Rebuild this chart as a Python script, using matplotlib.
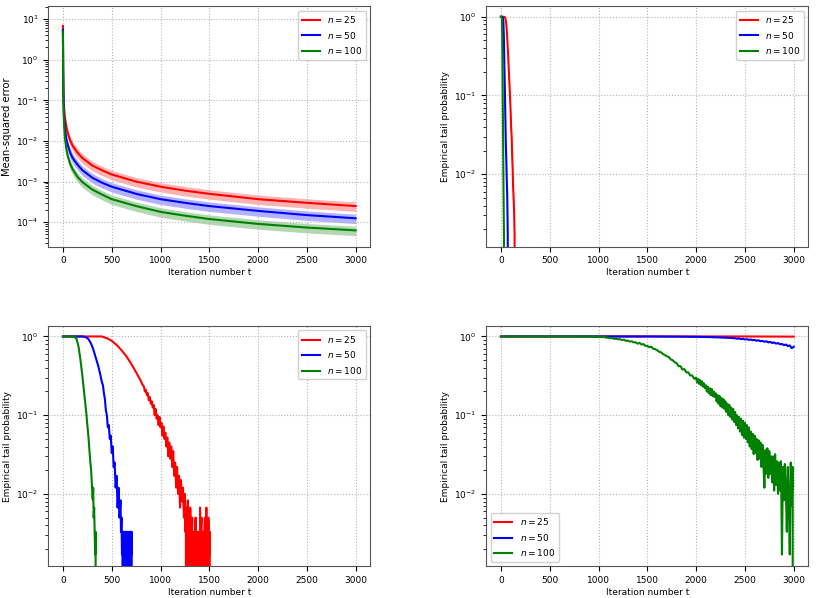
import numpy as np
import matplotlib.pyplot as plt

labels = [r'$n=25$', r'$n=50$', r'$n=100$']
colors = ['r', 'b', 'g']

# top-left: mean-squared error
mse_t = [0, 1, 2, 3, 5, 10, 20, 35, 50, 75, 100, 150, 200, 300, 400, 500, 750,
         1000, 1250, 1500, 2000, 2500, 3000]
mse_n25 = [6.8, 2.5, 1.0, 0.5, 0.2, 0.075, 0.038, 0.022, 0.0155, 0.0102, 0.0076,
           0.0051, 0.0038, 0.0025, 0.0019, 0.0015, 0.001, 0.00075, 0.0006, 0.0005,
           0.00037, 0.0003, 0.00025]
mse_n50 = [5.4, 1.8, 0.7, 0.35, 0.13, 0.045, 0.02, 0.011, 0.0078, 0.0051, 0.0038,
           0.0026, 0.0019, 0.00125, 0.00094, 0.00075, 0.0005, 0.00037, 0.0003,
           0.00025, 0.00019, 0.00015, 0.000125]
mse_n100 = [4.9, 1.4, 0.5, 0.25, 0.09, 0.03, 0.012, 0.0062, 0.0042, 0.0027, 0.002,
            0.0013, 0.00097, 0.00064, 0.00048, 0.00037, 0.00025, 0.00018, 0.000145,
            0.00012, 0.000091, 0.000074, 0.000063]
# relative standard deviation of the shaded band
mse_rel_sd = [0.6, 0.5, 0.45, 0.4, 0.35, 0.3, 0.3, 0.28, 0.28, 0.27, 0.27, 0.26,
              0.26, 0.26, 0.26, 0.26, 0.26, 0.26, 0.26, 0.26, 0.26, 0.26, 0.26]

# top-right: empirical tail probability, fast decay
tr_t_n25 = [0, 10, 20, 30, 40, 45, 50, 55, 60, 65, 70, 75, 80, 85, 90, 95, 100,
            105, 110, 115, 120, 125, 130, 135, 140, 145]
tr_p_n25 = [1, 1, 1, 1, 0.99, 0.96, 0.9, 0.8, 0.67, 0.52, 0.4, 0.3, 0.22, 0.16,
            0.12, 0.085, 0.06, 0.038, 0.03, 0.017, 0.012, 0.0067, 0.005, 0.0033,
            0.0017, 0]
tr_t_n50 = [0, 10, 20, 25, 30, 35, 40, 45, 50, 55, 60, 65, 70, 75]
tr_p_n50 = [1, 1, 0.98, 0.85, 0.55, 0.25, 0.12, 0.055, 0.025, 0.015, 0.0083,
            0.005, 0.0017, 0]
tr_t_n100 = [0, 5, 10, 13, 16, 19, 22, 25, 28, 31, 34]
tr_p_n100 = [1, 1, 0.95, 0.6, 0.25, 0.08, 0.03, 0.01, 0.004, 0.0017, 0]

# bottom-left: empirical tail probability, medium decay
bl_t_n25 = ([0, 200, 400, 450, 500, 550, 600, 650, 700, 750]
            + list(range(800, 1260, 10)) + list(range(1255, 1515, 5)))
bl_p_n25 = [1, 1, 1, 0.95, 0.88, 0.78, 0.67, 0.56, 0.45, 0.35,
            0.27, 0.25, 0.24, 0.23, 0.2, 0.21, 0.18, 0.19, 0.155, 0.17,
            0.14, 0.15, 0.125, 0.135, 0.1, 0.12, 0.09, 0.1, 0.075, 0.095,
            0.07, 0.08, 0.055, 0.072, 0.05, 0.06, 0.04, 0.052, 0.03, 0.045,
            0.028, 0.04, 0.022, 0.035, 0.017, 0.025, 0.012, 0.022, 0.01, 0.017,
            0.0067, 0.015, 0.008, 0.012, 0.005, 0.01,
            0.0033, 0.0067, 0, 0.005, 0.0033, 0.0083, 0, 0.0033, 0.005, 0.0017,
            0.0067, 0.0033, 0, 0.0033, 0.005, 0, 0.0033, 0.0017, 0.0033, 0,
            0.0033, 0.005, 0, 0.0033, 0.0017, 0.0033, 0, 0.0033, 0.0033, 0,
            0.0067, 0, 0.0033, 0.005, 0, 0.0033, 0.0017, 0.0033, 0, 0.0033,
            0.005, 0, 0.0033, 0.0067, 0.0017, 0.0033, 0, 0.005, 0.0033, 0.0017,
            0.0033, 0]
bl_t_n50 = [0, 100, 200, 220, 240, 260, 280, 300, 320, 340, 360, 380, 400, 410,
            420, 430, 440, 450, 460, 470, 480, 490, 500, 510, 520, 530, 540, 550,
            560, 570, 580, 590, 595, 600, 605, 610, 615, 620, 625, 630, 635, 640,
            645, 650, 655, 660, 665, 670, 675, 680, 685, 690, 695, 700, 705, 710]
bl_p_n50 = [1, 1, 1, 0.99, 0.97, 0.93, 0.85, 0.75, 0.63, 0.52,
            0.43, 0.34, 0.26, 0.24, 0.19, 0.16, 0.115, 0.1, 0.07, 0.075,
            0.05, 0.055, 0.033, 0.04, 0.022, 0.025, 0.012, 0.017, 0.0067, 0.012,
            0.005, 0.0083, 0.0033, 0.005, 0.0017, 0.0033, 0, 0.0033, 0.0033, 0,
            0.0033, 0.0017, 0.0033, 0, 0.0033, 0.0033, 0, 0.0033, 0.0017, 0.0033,
            0, 0.0033, 0.0033, 0.0017, 0.0033, 0]
bl_t_n100 = [0, 50, 100, 120, 140, 160, 180, 200, 220, 240, 250, 260, 270, 280,
             290, 300, 305, 310, 315, 320, 325, 330, 335, 340]
bl_p_n100 = [1, 1, 1, 0.99, 0.93, 0.74, 0.5, 0.31, 0.18, 0.105, 0.075, 0.056,
             0.038, 0.026, 0.019, 0.011, 0.0085, 0.012, 0.005, 0.0067, 0.0033,
             0.0017, 0.0033, 0]

# bottom-right: empirical tail probability, slow decay
br_t_n25 = [0, 2500, 3000]
br_p_n25 = [1, 1, 0.995]
br_t_n50 = [0, 1500, 1800, 2000, 2100, 2200, 2300] + list(range(2400, 3001, 20))
br_p_n50 = [1, 1, 0.995, 0.99, 0.985, 0.975, 0.965,
            0.95, 0.935, 0.945, 0.925, 0.935, 0.915, 0.925, 0.905, 0.915, 0.895,
            0.905, 0.88, 0.895, 0.87, 0.88, 0.855, 0.87, 0.84, 0.855, 0.825,
            0.84, 0.81, 0.825, 0.795, 0.805, 0.775, 0.79, 0.755, 0.77, 0.71, 0.74]
br_t_n100 = [0, 500, 900] + list(range(1000, 2000, 20)) + list(range(2000, 3001, 10))
br_p_n100 = [1, 1, 1,
             0.99, 1.0, 0.98, 0.985, 0.965, 0.965, 0.95, 0.955, 0.93, 0.94,
             0.92, 0.925, 0.9, 0.91, 0.88, 0.885, 0.86, 0.87, 0.84, 0.845,
             0.81, 0.83, 0.79, 0.8, 0.76, 0.76, 0.73, 0.74, 0.7, 0.69,
             0.67, 0.64, 0.63, 0.6, 0.58, 0.56, 0.55, 0.51, 0.5, 0.47,
             0.46, 0.42, 0.42, 0.38, 0.385, 0.35, 0.35, 0.32, 0.32, 0.29,
             0.3, 0.26, 0.29, 0.25, 0.28, 0.24, 0.27, 0.23, 0.255, 0.22,
             0.24, 0.2, 0.23, 0.19, 0.22, 0.18, 0.215, 0.175, 0.2, 0.17,
             0.19, 0.15, 0.18, 0.14, 0.175, 0.13, 0.165, 0.125, 0.16, 0.12,
             0.15, 0.11, 0.14, 0.1, 0.135, 0.095, 0.125, 0.088, 0.12, 0.082,
             0.11, 0.075, 0.1, 0.068, 0.095, 0.062, 0.09, 0.056, 0.085, 0.052,
             0.08, 0.05, 0.075, 0.045, 0.07, 0.04, 0.062, 0.037, 0.058, 0.032,
             0.055, 0.033, 0.05, 0.027, 0.048, 0.028, 0.045, 0.022, 0.042, 0.024,
             0.012, 0.036, 0.018, 0.038, 0.016, 0.035, 0.018, 0.03, 0.014, 0.03,
             0.011, 0.032, 0.013, 0.026, 0.01, 0.025, 0.011, 0.026, 0.0017, 0.022,
             0.0083, 0.024, 0.011, 0.0033, 0.022, 0.009, 0.0017, 0.025, 0.007, 0.022,
             0]

fs = 6.5
W, H = 816, 598
fig = plt.figure(figsize=(W / 100, H / 100), dpi=100)


def make_axes(left_px, top_px):
    return fig.add_axes([left_px / W, 1 - (top_px + 240.7) / H, 322 / W, 240.7 / H])


def style(ax, ylabel, loc='upper right', ylabel_fs=fs):
    ax.set_yscale('log')
    ax.set_xlim(-150, 3150)
    ax.grid(True, which='major', linestyle=':', color='#b5b5b5', linewidth=0.8)
    ax.set_xlabel('Iteration number t', fontsize=fs, labelpad=2)
    ax.set_ylabel(ylabel, fontsize=ylabel_fs)
    ax.yaxis.set_label_coords(-0.114, 0.5)
    ax.tick_params(labelsize=fs)
    for s in ax.spines.values():
        s.set_color('#555555')
    ax.legend(loc=loc, fontsize=fs, framealpha=0.9)


ax1 = make_axes(48.3, 6)
mse_t_arr = np.array(mse_t)
sd = np.array(mse_rel_sd)
for mse, c, lab in zip([mse_n25, mse_n50, mse_n100], colors, labels):
    m = np.array(mse)
    ax1.fill_between(mse_t_arr, m * (1 - sd), m * (1 + sd), color=c, alpha=0.3, lw=0)
    ax1.plot(mse_t_arr, m, color=c, lw=1.5, label=lab)
ax1.set_ylim(2.5e-5, 21)
style(ax1, 'Mean-squared error', ylabel_fs=7.2)

panels = [
    (486.3, 6, [(tr_t_n25, tr_p_n25), (tr_t_n50, tr_p_n50), (tr_t_n100, tr_p_n100)], 'upper right'),
    (48.3, 325.7, [(bl_t_n25, bl_p_n25), (bl_t_n50, bl_p_n50), (bl_t_n100, bl_p_n100)], 'upper right'),
    (486.3, 325.7, [(br_t_n25, br_p_n25), (br_t_n50, br_p_n50), (br_t_n100, br_p_n100)], 'lower left'),
]
for left, top, series, loc in panels:
    ax = make_axes(left, top)
    for (t, p), c, lab in zip(series, colors, labels):
        ax.plot(t, p, color=c, lw=1.5, label=lab)
    ax.set_yscale('log')
    ax.set_ylim(1.2e-3, 1.37)
    style(ax, 'Empirical tail probability', loc)

fig.savefig('out.png', dpi=100)
